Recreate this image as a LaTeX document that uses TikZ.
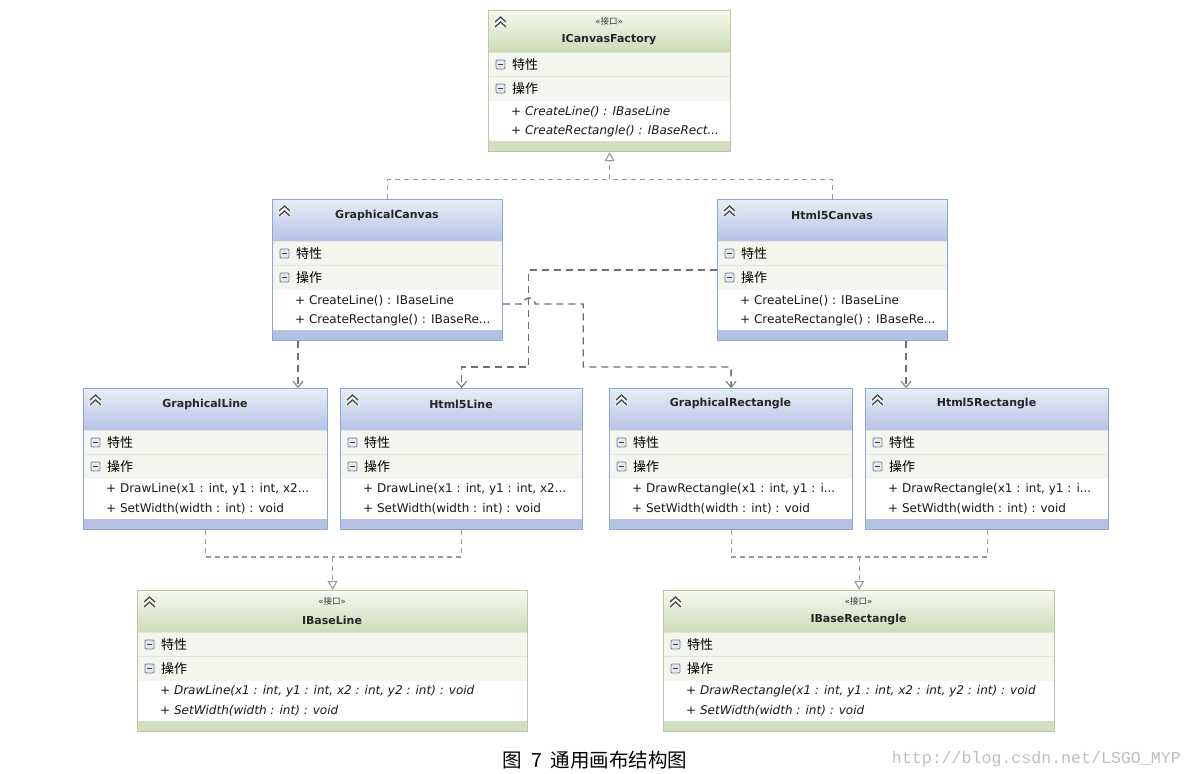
\documentclass[tikz,border=0pt]{standalone}
\usepackage{fontspec}
\setmainfont{DejaVu Sans}
\newfontfamily\cjk{Noto Sans CJK SC}
\newfontfamily\wmfont{Liberation Mono}
\usetikzlibrary{arrows.meta,calc}

\definecolor{cls-top}{HTML}{E9EDF8}
\definecolor{cls-bot}{HTML}{B6C3E6}
\definecolor{cls-border}{HTML}{8EA6D6}
\definecolor{cls-band}{HTML}{B4C1E4}
\definecolor{ifc-top}{HTML}{F6F8F0}
\definecolor{ifc-bot}{HTML}{CEDCB8}
\definecolor{ifc-border}{HTML}{C3C6A6}
\definecolor{ifc-band}{HTML}{D2DEC0}
\definecolor{rowbg}{HTML}{F3F5EE}
\definecolor{sepc}{HTML}{E0E6D8}
\definecolor{conn}{HTML}{707070}
\definecolor{realc}{HTML}{9A9A9A}
\definecolor{iconb}{HTML}{6F7F99}
\definecolor{iconf}{HTML}{E4E8EE}

\tikzset{
  boxframe/.style={rectangle,inner sep=0pt,minimum height=141bp,line width=1.2bp},
  titletext/.style={font=\bfseries\fontsize{11bp}{13bp}\selectfont,inner sep=0pt,text=black!85},
  stereotext/.style={font=\fontsize{8.5bp}{10bp}\selectfont,inner sep=0pt,text=black!80},
  rowtext/.style={font=\cjk\fontsize{13bp}{15bp}\selectfont,inner sep=0pt,anchor=west},
  optext/.style={font=\fontsize{12bp}{14bp}\selectfont,inner sep=0pt,anchor=west,text=black!90},
  depline/.style={draw=conn,line width=1.4bp,dash pattern=on 7bp off 5bp},
  realline/.style={draw=realc,line width=1.2bp,dash pattern=on 5bp off 4bp},
  realtip/.style={-{Triangle[open,length=9bp,width=10bp,line width=1.1bp]}},
  deptip/.style={-{Straight Barb[length=6bp,width=10bp,line width=1bp]}},
}

\def\clsty{16}
\def\ifcty{30}
\def\clsop{}
\def\ifcop{\itshape}

\newcommand\collapseicon[2]{%
  \draw[white,line width=3bp,line join=round,line cap=round]
    (#1+7,#2+12) -- (#1+12.5,#2+7) -- (#1+18,#2+12)
    (#1+7,#2+17) -- (#1+12.5,#2+12) -- (#1+18,#2+17);
  \draw[black!70,line width=1.4bp,line join=miter]
    (#1+7,#2+12) -- (#1+12.5,#2+7) -- (#1+18,#2+12)
    (#1+7,#2+17) -- (#1+12.5,#2+12) -- (#1+18,#2+17);
}
\newcommand\minusicon[2]{%
  \draw[draw=iconb,fill=iconf,line width=0.8bp,rounded corners=1bp] (#1,#2) rectangle (#1+9,#2+9);
  \draw[black!75,line width=1.2bp] (#1+2.3,#2+4.5) -- (#1+6.7,#2+4.5);
}

% #1 name #2 x #3 y #4 width #5 stereotype #6 title #7 op1 #8 op2 #9 kind
\newcommand\umlbox[9]{%
  \fill[top color=#9-top,bottom color=#9-bot] (#2,#3) rectangle (#2+#4,#3+42);
  \fill[rowbg] (#2,#3+42) rectangle (#2+#4,#3+91);
  \fill[white] (#2,#3+91) rectangle (#2+#4,#3+131);
  \fill[#9-band] (#2,#3+131) rectangle (#2+#4,#3+141);
  \draw[sepc,line width=1bp] (#2,#3+42.5) -- (#2+#4,#3+42.5);
  \draw[sepc,line width=1.5bp] (#2,#3+66.5) -- (#2+#4,#3+66.5);
  \node[boxframe,draw=#9-border,minimum width=#4bp,anchor=north west] (#1) at (#2,#3) {};
  \collapseicon{#2}{#3}
  \ifx\relax#5\relax\else
    \node[stereotext] (#1-s) at (#2+#4/2,#3+11) {#5};
  \fi
  \node[titletext] (#1-t) at (#2+#4/2,#3+\csname#9ty\endcsname) {#6};
  \minusicon{#2+8}{#3+50}
  \node[rowtext] (#1-a) at (#2+24,#3+55) {特性};
  \minusicon{#2+8}{#3+74}
  \node[rowtext] (#1-o) at (#2+24,#3+79) {操作};
  \node[optext] (#1-o1) at (#2+23,#3+101.5) {\csname#9op\endcsname #7};
  \node[optext] (#1-o2) at (#2+23,#3+121) {\csname#9op\endcsname #8};
}

\begin{document}
\begin{tikzpicture}[x=1bp,y=-1bp]
\useasboundingbox (0,0) rectangle (1191,774);
\fill[white] (0,0) rectangle (1191,774);

\umlbox{fac}{488}{10}{242}{«{\cjk 接口}»}{ICanvasFactory}{+ CreateLine() : IBaseLine}{+ CreateRectangle() : IBaseRect...}{ifc}
\umlbox{gc}{272}{199}{230}{}{GraphicalCanvas}{+ CreateLine() : IBaseLine}{+ CreateRectangle() : IBaseRe...}{cls}
\umlbox{hc}{717}{199}{230}{}{Html5Canvas}{+ CreateLine() : IBaseLine}{+ CreateRectangle() : IBaseRe...}{cls}
\umlbox{gl}{83}{388}{244}{}{GraphicalLine}{+ DrawLine(x1 : int, y1 : int, x2...}{+ SetWidth(width : int) : void}{cls}
\umlbox{hl}{340}{388}{242}{}{Html5Line}{+ DrawLine(x1 : int, y1 : int, x2...}{+ SetWidth(width : int) : void}{cls}
\umlbox{gr}{609}{388}{243}{}{GraphicalRectangle}{+ DrawRectangle(x1 : int, y1 : i...}{+ SetWidth(width : int) : void}{cls}
\umlbox{hr}{865}{388}{243}{}{Html5Rectangle}{+ DrawRectangle(x1 : int, y1 : i...}{+ SetWidth(width : int) : void}{cls}
\umlbox{ibl}{137}{590}{390}{«{\cjk 接口}»}{IBaseLine}{+ DrawLine(x1 : int, y1 : int, x2 : int, y2 : int) : void}{+ SetWidth(width : int) : void}{ifc}
\umlbox{ibr}{663}{590}{391}{«{\cjk 接口}»}{IBaseRectangle}{+ DrawRectangle(x1 : int, y1 : int, x2 : int, y2 : int) : void}{+ SetWidth(width : int) : void}{ifc}

% realization to ICanvasFactory
\coordinate (j1) at ($(fac.south)+(0,27)$);
\draw[realline] (gc.north) |- (j1);
\draw[realline] (hc.north) |- (j1);
\draw[realline,realtip] (j1) -- (fac.south);

% dependencies from canvases
\coordinate (a1) at ($(gc.south west)+(26,0)$);
\draw[depline,deptip] (a1) -- (a1 |- gl.north);
\coordinate (a2) at ($(hc.south west)+(189,0)$);
\draw[depline,deptip] (a2) -- (a2 |- hr.north);
\draw[depline,deptip] (hc.west) -| ($(hl.north)+(67,-21)$) -| (hl.north);
\coordinate (g1) at ($(gc.north east)+(0,105)$);
\draw[depline,deptip] (g1) -- ++(20,0) arc[start angle=180,end angle=360,radius=6] -- ++(48,0)
   |- ($(gr.north)+(0,-21)$) -- (gr.north);

% realization to IBaseLine / IBaseRectangle
\coordinate (j2) at ($(ibl.north)+(0,-33)$);
\draw[realline] (gl.south) |- (j2);
\draw[realline] (hl.south) |- (j2);
\draw[realline,realtip] (j2) -- (ibl.north);
\coordinate (j3) at ($(ibr.north)+(0,-33)$);
\draw[realline] (gr.south) |- (j3);
\draw[realline] (hr.south) |- (j3);
\draw[realline,realtip] (j3) -- (ibr.north);

% caption and watermark
\node[font=\cjk\fontsize{19.5bp}{21bp}\selectfont,inner sep=0pt] (cap) at (595,760) {图\hspace{9bp}7\hspace{9bp}通用画布结构图};
\node[font=\wmfont\fontsize{16.6bp}{18bp}\selectfont,text=black!25,inner sep=0pt,anchor=east] (wm) at (1181,759) {http://blog.csdn.net/LSGO\_MYP};
\end{tikzpicture}
\end{document}
